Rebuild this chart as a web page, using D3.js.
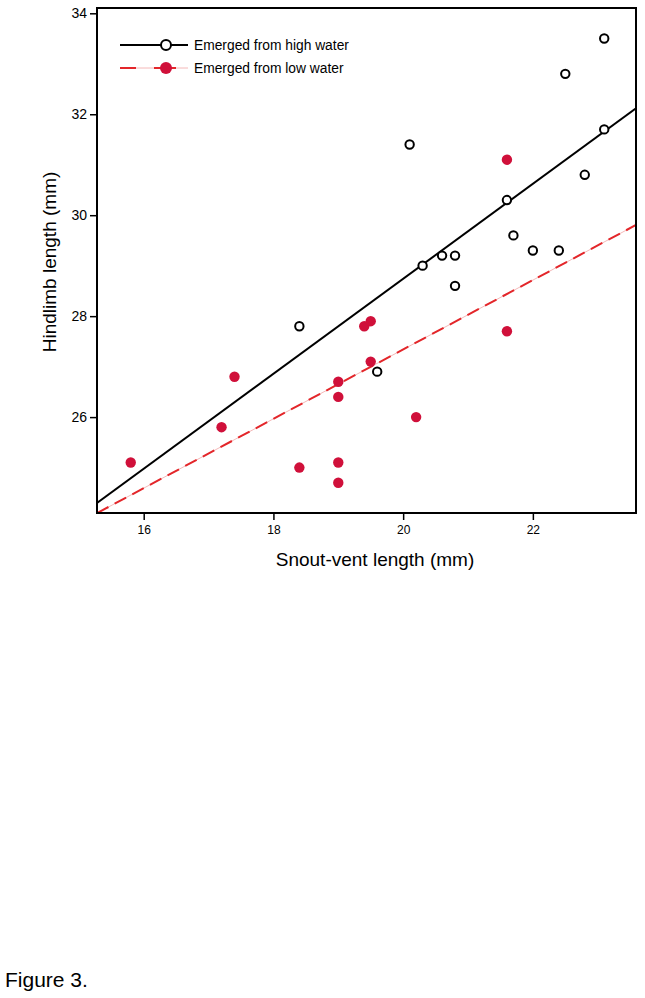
<!DOCTYPE html>
<html>
<head>
<meta charset="utf-8">
<script src="https://cdn.jsdelivr.net/npm/d3@7"></script>
<style>
  html, body { margin: 0; padding: 0; background: #fff; }
  svg { display: block; }
  text { font-family: "Liberation Sans", Arial, Helvetica, sans-serif; }
</style>
</head>
<body>
<svg id="chart" width="645" height="998"></svg>
<script>
// ---- data ----
const highSVL = [18.4, 19.6, 20.1, 20.3, 20.6, 20.8, 20.8, 21.6, 21.7, 22.0, 22.4, 22.5, 22.8, 23.1, 23.1];
const highHL  = [27.8, 26.9, 31.4, 29.0, 29.2, 29.2, 28.6, 30.3, 29.6, 29.3, 29.3, 32.8, 30.8, 33.5, 31.7];
const lowSVL  = [15.8, 17.2, 17.4, 18.4, 19.0, 19.0, 19.0, 19.0, 19.4, 19.5, 19.5, 20.2, 21.6, 21.6];
const lowHL   = [25.1, 25.8, 26.8, 25.0, 26.7, 26.4, 25.1, 24.7, 27.8, 27.9, 27.1, 26.0, 31.1, 27.7];
// regression lines: [intercept, slope]
const highFit = [9.92, 0.941];
const lowFit  = [13.60, 0.687];
const xTicks = [16, 18, 20, 22];
const yTicks = [26, 28, 30, 32, 34];
const legendLabels = ["Emerged from high water", "Emerged from low water"];

(function () {
// ---- layout ----
const svg = d3.select("#chart");
const pL = 97, pR = 636, pT = 8, pB = 513;
const x = d3.scaleLinear().domain([15.28, 23.59]).range([pL, pR]);
const y = d3.scaleLinear().domain([24.1, 34.105]).range([pB, pT]);

const red = "#d0103a";
const lineRed = "#e3262a";

// clip
svg.append("clipPath").attr("id", "clip")
  .append("rect").attr("x", pL).attr("y", pT).attr("width", pR - pL).attr("height", pB - pT);

// regression lines
const xd = x.domain();
function fitPts(f) { return xd.map(v => [x(v), y(f[0] + f[1] * v)]); }
const line = d3.line();
const g = svg.append("g").attr("clip-path", "url(#clip)");
g.append("path").attr("d", line(fitPts(lowFit))).attr("stroke", "#f4b8b8").attr("stroke-width", 1).attr("fill", "none");
g.append("path").attr("d", line(fitPts(lowFit))).attr("stroke", lineRed).attr("stroke-width", 2)
  .attr("stroke-dasharray", "13,7").attr("fill", "none");
g.append("path").attr("d", line(fitPts(highFit))).attr("stroke", "#000").attr("stroke-width", 2).attr("fill", "none");

// points
svg.append("g").selectAll("circle").data(lowSVL.map((v, i) => [v, lowHL[i]])).join("circle")
  .attr("cx", d => x(d[0])).attr("cy", d => y(d[1])).attr("r", 5.2).attr("fill", red);
svg.append("g").selectAll("circle").data(highSVL.map((v, i) => [v, highHL[i]])).join("circle")
  .attr("cx", d => x(d[0])).attr("cy", d => y(d[1])).attr("r", 4.2).attr("fill", "#fff")
  .attr("stroke", "#000").attr("stroke-width", 2);

// frame
svg.append("rect").attr("x", pL).attr("y", pT).attr("width", pR - pL).attr("height", pB - pT)
  .attr("fill", "none").attr("stroke", "#000").attr("stroke-width", 2);

// axes
const xAxis = svg.append("g").attr("transform", `translate(0,${pB})`)
  .call(d3.axisBottom(x).tickValues(xTicks).tickSize(7).tickPadding(5).tickFormat(d3.format("d")));
xAxis.select(".domain").remove();
xAxis.selectAll("line").attr("stroke-width", 1.5);
xAxis.selectAll("text").attr("font-size", 12).attr("fill", "#000");

const yAxis = svg.append("g").attr("transform", `translate(${pL},0)`)
  .call(d3.axisLeft(y).tickValues(yTicks).tickSize(7).tickPadding(3).tickFormat(d3.format("d")));
yAxis.select(".domain").remove();
yAxis.selectAll("line").attr("stroke-width", 1.5);
yAxis.selectAll("text").attr("font-size", 14).attr("fill", "#000");

// axis titles
svg.append("text").attr("x", 375).attr("y", 566).attr("text-anchor", "middle")
  .attr("font-size", 19).text("Snout-vent length (mm)");
svg.append("text").attr("transform", "translate(56,262) rotate(-90)").attr("text-anchor", "middle")
  .attr("font-size", 19).text("Hindlimb length (mm)");

// legend
const lg = svg.append("g");
lg.append("line").attr("x1", 120).attr("x2", 188).attr("y1", 45).attr("y2", 45).attr("stroke", "#000").attr("stroke-width", 2);
lg.append("circle").attr("cx", 166).attr("cy", 45).attr("r", 5).attr("fill", "#fff").attr("stroke", "#000").attr("stroke-width", 2);
lg.append("line").attr("x1", 120).attr("x2", 188).attr("y1", 68).attr("y2", 68).attr("stroke", "#f4b8b8").attr("stroke-width", 1);
lg.append("line").attr("x1", 120).attr("x2", 188).attr("y1", 68).attr("y2", 68).attr("stroke", lineRed).attr("stroke-width", 2)
  .attr("stroke-dasharray", "16,18,22,14,5");
lg.append("circle").attr("cx", 166).attr("cy", 68).attr("r", 6).attr("fill", red);
lg.selectAll("text.lab").data(legendLabels).join("text").attr("class", "lab")
  .attr("x", 194).attr("y", (d, i) => 45 + i * 23).attr("dy", "0.35em")
  .attr("font-size", 13.8).text(d => d);

// caption
svg.append("text").attr("x", 5).attr("y", 987).attr("font-size", 21).text("Figure 3.");
})();
</script>
</body>
</html>
